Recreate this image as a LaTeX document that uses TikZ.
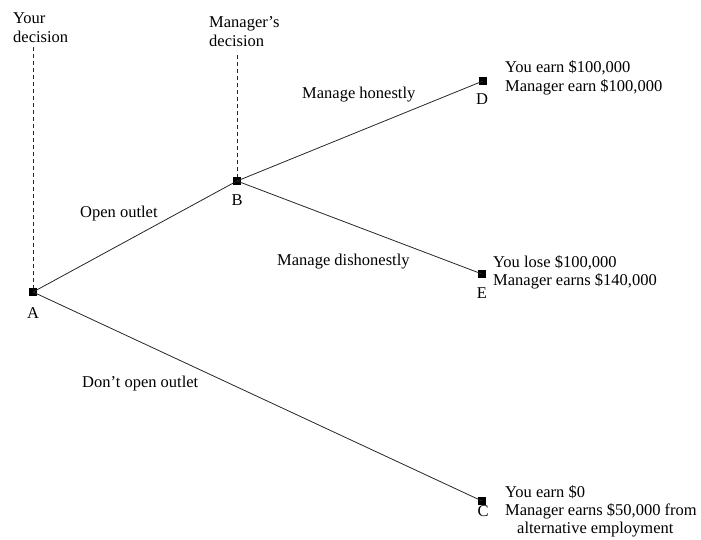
\documentclass[tikz,border=0pt]{standalone}
\usepackage{fontspec}
\setmainfont{Liberation Serif}
\begin{document}
\begin{tikzpicture}[x=1pt,y=-1pt,
  dec/.style={fill=black,draw=none,minimum size=8.5pt,inner sep=0pt},
  txt/.style={font=\fontsize{16.5}{19}\selectfont,inner sep=0pt,anchor=base west},
  ltr/.style={font=\fontsize{16.5}{19}\selectfont,inner sep=0pt,anchor=base},
  branch/.style={draw=black!85,line width=0.8pt},
  guide/.style={draw=black!85,line width=0.8pt,dash pattern=on 4pt off 3pt}]
\useasboundingbox (0,0) rectangle (701,540);
% decision / end nodes
\node[dec] (A) at (33,292) {};
\node[dec] (B) at (237,181) {};
\node[dec] (D) at (483,81) {};
\node[dec] (E) at (482,274) {};
\node[dec] (C) at (482,501) {};
% guide tops
\coordinate (Atop) at (33,47);
\coordinate (Btop) at (237,55);
\draw[guide] (Atop) -- (A);
\draw[guide] (Btop) -- (B);
% branches
\draw[branch] (A.center) -- (B.center);
\draw[branch] (A.center) -- (C.center);
\draw[branch] (B.center) -- (D.center);
\draw[branch] (B.center) -- (E.center);
% letters
\node[ltr] (lA) at (33,318) {A};
\node[ltr] (lB) at (237,205) {B};
\node[ltr] (lD) at (482,105) {D};
\node[ltr] (lE) at (482,298) {E};
\node[ltr] (lC) at (483,516) {C};
% headers
\node[txt] (y1) at (13,24) {Your};
\node[txt] (y2) at (13,43) {decision};
\node[txt] (m1) at (209,28) {Manager’s};
\node[txt] (m2) at (209,47) {decision};
% branch labels
\node[txt] (open) at (80,217) {Open outlet};
\node[txt] (hon) at (302,99) {Manage honestly};
\node[txt] (dis) at (277,265) {Manage dishonestly};
\node[txt] (dont) at (82,387) {Don’t open outlet};
% payoffs
\node[txt] (pd1) at (505,73) {You earn \$100,000};
\node[txt] (pd2) at (505,92) {Manager earn \$100,000};
\node[txt] (pe1) at (493,267) {You lose \$100,000};
\node[txt] (pe2) at (493,285) {Manager earns \$140,000};
\node[txt] (pc1) at (505,497) {You earn \$0};
\node[txt] (pc2) at (505,515) {Manager earns \$50,000 from};
\node[txt] (pc3) at (517,533) {alternative employment};
\end{tikzpicture}
\end{document}
